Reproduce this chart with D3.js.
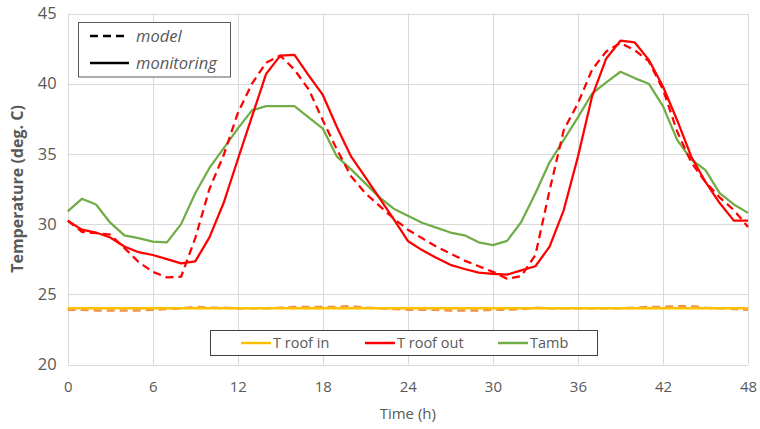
<!DOCTYPE html>
<html>
<head>
<meta charset="utf-8">
<script src="https://cdn.jsdelivr.net/npm/d3@7"></script>
<style>
  body { margin: 0; background: #fff; }
  svg text { font-family: "Open Sans", "Noto Sans", sans-serif; fill: #595959; }
</style>
</head>
<body>
<svg id="chart" width="760" height="429"></svg>
<script>
// hourly data, 0..48 h
const hours = d3.range(0, 49);

const tambMon = [30.9, 31.8, 31.4, 30.1, 29.2, 29.0, 28.75, 28.7, 30.0, 32.2,
  34.0, 35.4, 36.8, 38.1, 38.4, 38.4, 38.4, 37.6, 36.8, 34.8,
  33.9, 32.9, 31.9, 31.1, 30.6, 30.1, 29.75, 29.4, 29.2, 28.7,
  28.5, 28.8, 30.15, 32.2, 34.4, 36.0, 37.6, 39.3, 40.1, 40.85,
  40.4, 40.0, 38.4, 36.0, 34.6, 33.85, 32.2, 31.4, 30.8];

const roofOutMon = [30.25, 29.6, 29.4, 29.05, 28.4, 28.0, 27.8, 27.5, 27.2, 27.35,
  29.05, 31.5, 34.6, 37.65, 40.7, 42.0, 42.05, 40.6, 39.2, 36.9,
  34.8, 33.35, 31.85, 30.35, 28.8, 28.15, 27.6, 27.1, 26.8, 26.55,
  26.45, 26.4, 26.7, 27.0, 28.4, 31.0, 34.8, 39.1, 41.8, 43.06,
  42.95, 41.7, 39.8, 37.4, 34.8, 33.0, 31.5, 30.25, 30.25];

const roofOutModel = [30.25, 29.45, 29.35, 29.25, 28.3, 27.3, 26.6, 26.2, 26.25, 29.0,
  32.5, 34.9, 37.9, 40.0, 41.5, 42.0, 41.0, 39.6, 37.4, 35.3,
  33.4, 32.2, 31.3, 30.4, 29.6, 29.0, 28.4, 27.9, 27.4, 27.0,
  26.6, 26.1, 26.3, 27.8, 32.4, 36.7, 38.6, 41.0, 42.3, 42.9,
  42.4, 41.6, 39.6, 36.6, 34.4, 33.0, 31.9, 31.0, 29.8];

const roofInMon = hours.map(() => 24.0);

const roofInModel = [23.9, 23.9, 23.85, 23.85, 23.85, 23.85, 23.9, 23.95, 24.0, 24.1,
  24.05, 24.05, 24.0, 24.0, 24.0, 24.05, 24.1, 24.1, 24.1, 24.1,
  24.15, 24.05, 24.0, 23.95, 23.9, 23.9, 23.9, 23.85, 23.85, 23.85,
  23.9, 23.9, 23.95, 24.05, 24.0, 24.0, 24.0, 24.0, 24.0, 24.0,
  24.05, 24.1, 24.1, 24.15, 24.15, 24.05, 24.0, 23.95, 23.9];

const xTicks = [0, 6, 12, 18, 24, 30, 36, 42, 48];
const yTicks = [20, 25, 30, 35, 40, 45];

const svg = d3.select('#chart');
const margin = { left: 67.7, right: 12, top: 13.5, bottom: 64.5 };
const W = 760, H = 429;

const x = d3.scaleLinear().domain([0, 48]).range([margin.left, W - margin.right]);
const y = d3.scaleLinear().domain([20, 45]).range([H - margin.bottom, margin.top]);

// gridlines
const grid = svg.append('g').attr('stroke', '#d9d9d9').attr('stroke-width', 1);
grid.selectAll('.gy').data(yTicks).enter().append('line')
  .attr('x1', x(0)).attr('x2', x(48))
  .attr('y1', d => Math.round(y(d)) + 0.5).attr('y2', d => Math.round(y(d)) + 0.5);
grid.selectAll('.gx').data(xTicks).enter().append('line')
  .attr('y1', y(20)).attr('y2', y(45))
  .attr('x1', d => Math.round(x(d)) + 0.5).attr('x2', d => Math.round(x(d)) + 0.5);

// axes (labels only)
const yAxis = svg.append('g')
  .attr('transform', `translate(${x(0)},0)`)
  .call(d3.axisLeft(y).tickValues(yTicks).tickSize(0).tickPadding(11));
yAxis.select('.domain').remove();
yAxis.selectAll('text').attr('font-size', 16.5).attr('fill', '#595959')
  .style('font-family', '"Open Sans", sans-serif');

const xAxis = svg.append('g')
  .attr('transform', `translate(0,${y(20)})`)
  .call(d3.axisBottom(x).tickValues(xTicks).tickSize(0).tickPadding(17));
xAxis.select('.domain').remove();
xAxis.selectAll('text').attr('font-size', 15).attr('fill', '#595959')
  .style('font-family', '"Open Sans", sans-serif');

// axis titles
svg.append('text')
  .attr('transform', `translate(23,${(y(20) + y(45)) / 2}) rotate(-90)`)
  .attr('text-anchor', 'middle')
  .attr('font-size', 16).attr('font-weight', 'bold')
  .text('Temperature (deg. C)');

svg.append('text')
  .attr('x', (x(0) + x(48)) / 2).attr('y', 419)
  .attr('text-anchor', 'middle').attr('font-size', 15)
  .text('Time (h)');

// series
const line = d3.line().x((d, i) => x(hours[i])).y(d => y(d));

const series = [
  { data: roofInModel, color: '#f0904a', dash: '8,5', w: 2.5 },
  { data: roofInMon, color: '#ffc000', dash: null, w: 2.5 },
  { data: tambMon, color: '#70ad47', dash: null, w: 2.25 },
  { data: roofOutModel, color: '#ff0000', dash: '8,5', w: 2.25 },
  { data: roofOutMon, color: '#ff0000', dash: null, w: 2.25 }
];

svg.selectAll('.series').data(series).enter().append('path')
  .attr('class', 'series')
  .attr('d', d => line(d.data))
  .attr('fill', 'none')
  .attr('stroke', d => d.color)
  .attr('stroke-width', d => d.w)
  .attr('stroke-dasharray', d => d.dash)
  .attr('stroke-linejoin', 'round');

// legend for line style (top left)
const styleLeg = svg.append('g');
styleLeg.append('rect')
  .attr('x', 78.5).attr('y', 22.5).attr('width', 152).attr('height', 54.5)
  .attr('fill', '#fff').attr('stroke', '#595959').attr('stroke-width', 1);
[{ label: 'model', dash: '8,5', yy: 36 }, { label: 'monitoring', dash: null, yy: 63 }]
  .forEach(d => {
    styleLeg.append('line')
      .attr('x1', 90).attr('x2', 129).attr('y1', d.yy).attr('y2', d.yy)
      .attr('stroke', '#000').attr('stroke-width', 2.5)
      .attr('stroke-dasharray', d.dash);
    styleLeg.append('text')
      .attr('x', 136).attr('y', d.yy + 5.5)
      .attr('font-size', 16.5).attr('font-style', 'italic')
      .text(d.label);
  });

// legend for series (bottom)
const serLeg = svg.append('g');
serLeg.append('rect')
  .attr('x', 210.5).attr('y', 330.5).attr('width', 387).attr('height', 25)
  .attr('fill', '#fff').attr('stroke', '#404040').attr('stroke-width', 1);
[{ label: 'T roof in', color: '#ffc000', x0: 241 },
 { label: 'T roof out', color: '#ff0000', x0: 365 },
 { label: 'Tamb', color: '#70ad47', x0: 498 }]
  .forEach(d => {
    serLeg.append('line')
      .attr('x1', d.x0).attr('x2', d.x0 + 30).attr('y1', 343).attr('y2', 343)
      .attr('stroke', d.color).attr('stroke-width', 2.5);
    serLeg.append('text')
      .attr('x', d.x0 + 32).attr('y', 348)
      .attr('font-size', 14.5)
      .text(d.label);
  });
</script>
</body>
</html>
